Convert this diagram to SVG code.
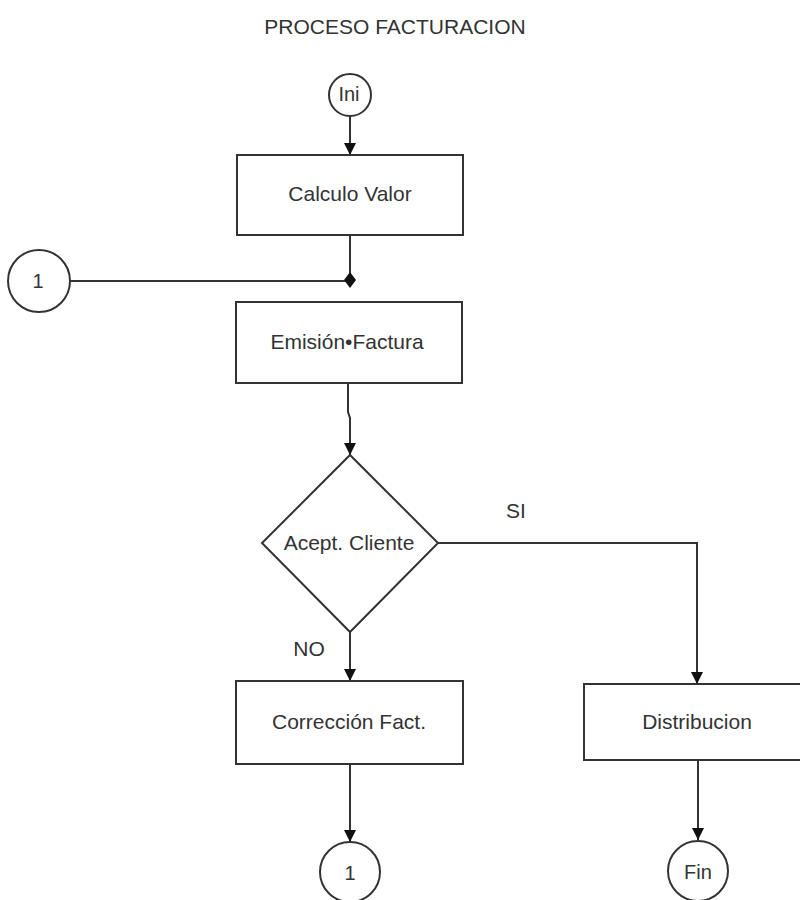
<svg xmlns="http://www.w3.org/2000/svg" width="800" height="900" viewBox="0 0 800 900">
<defs>
<style>
text{font-family:"Liberation Sans",Arial,sans-serif;font-size:21px;fill:#333;text-anchor:middle}
.box{fill:#fff;stroke:#333;stroke-width:2}
.ln{fill:none;stroke:#333;stroke-width:2}
</style>
<marker id="ah" markerUnits="userSpaceOnUse" markerWidth="12" markerHeight="12" refX="12" refY="6" orient="auto">
<path d="M0,0 L12,6 L0,12 z" fill="#111"/>
</marker>
</defs>
<rect width="800" height="900" fill="#fff"/>
<text x="395" y="34">PROCESO FACTURACION</text>

<g id="connectors">
<path class="ln" d="M350,116 V155" marker-end="url(#ah)"/>
<path class="ln" d="M350,235 V280"/>
<path class="ln" d="M70,281 H350"/>
<polygon points="350,272 356,280 350,288 344,280" fill="#111"/>
<path class="ln" d="M348,383 V412 L350,418 V455" marker-end="url(#ah)"/>
<path class="ln" d="M438,543 H697 V684" marker-end="url(#ah)"/>
<path class="ln" d="M350,632 V681" marker-end="url(#ah)"/>
<path class="ln" d="M350,764 V842" marker-end="url(#ah)"/>
<path class="ln" d="M698,760 V840" marker-end="url(#ah)"/>
<text x="516" y="518">SI</text>
<text x="309" y="656">NO</text>
</g>

<g id="ini">
<circle class="box" cx="350" cy="95" r="21"/>
<text x="349" y="101" style="font-size:20px">Ini</text>
</g>
<g id="calculo">
<rect class="box" x="237" y="155" width="226" height="80"/>
<text x="350" y="201">Calculo Valor</text>
</g>
<g id="conector1a">
<circle class="box" cx="39" cy="281" r="31"/>
<text x="38" y="288" style="font-size:20px">1</text>
</g>
<g id="emision">
<rect class="box" x="236" y="302" width="226" height="81"/>
<text x="347" y="349">Emisión•Factura</text>
</g>
<g id="decision">
<polygon class="box" points="350,455 438,543 350,632 262,543"/>
<text x="349" y="550">Acept. Cliente</text>
</g>
<g id="correccion">
<rect class="box" x="236" y="681" width="227" height="83"/>
<text x="349" y="729">Corrección Fact.</text>
</g>
<g id="distribucion">
<rect class="box" x="584" y="684" width="230" height="76"/>
<text x="697" y="729">Distribucion</text>
</g>
<g id="conector1b">
<circle class="box" cx="350" cy="872" r="30"/>
<text x="350" y="880" style="font-size:20px">1</text>
</g>
<g id="fin">
<circle class="box" cx="698" cy="871" r="30"/>
<text x="698" y="879" style="font-size:20px">Fin</text>
</g>
</svg>
